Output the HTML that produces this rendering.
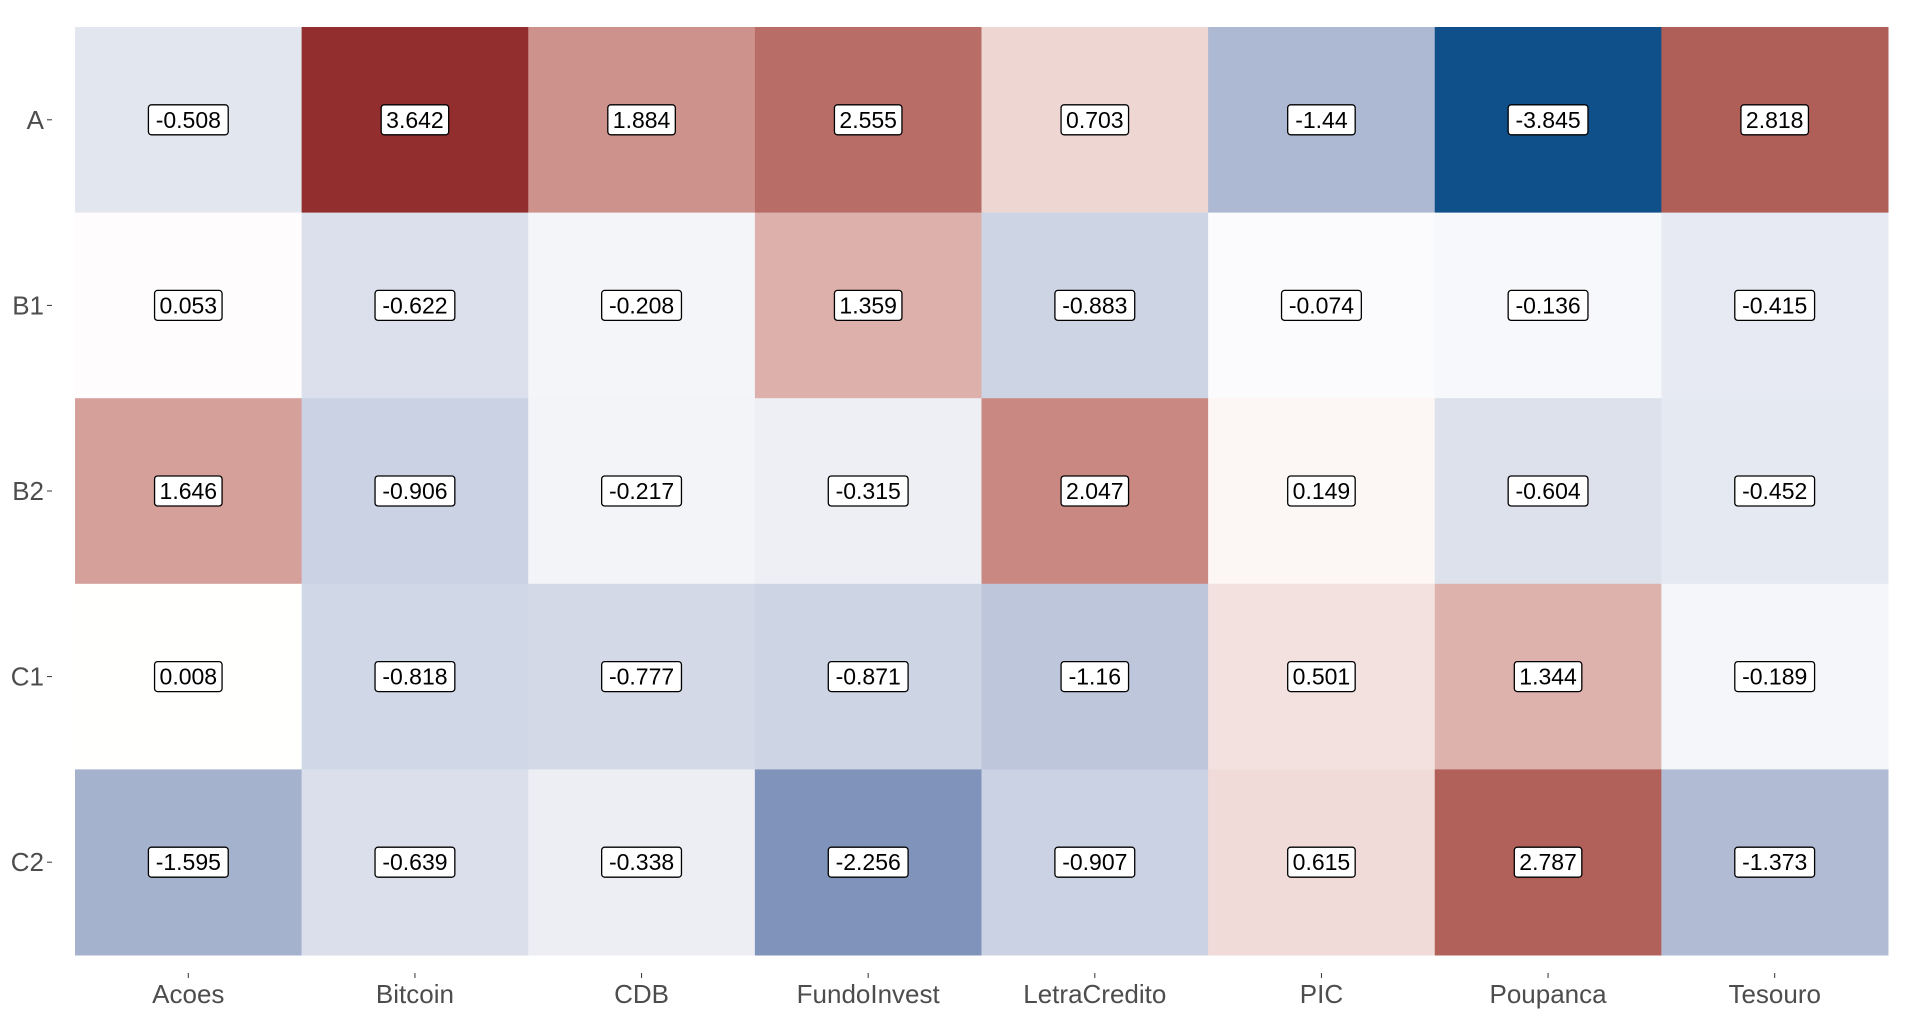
<!DOCTYPE html>
<html><head><meta charset="utf-8"><style>
body{margin:0;background:#fff;width:1920px;height:1017px;overflow:hidden;font-family:"Liberation Sans",sans-serif}
svg{display:block}
</style></head><body>
<svg id="chart" width="1920" height="1017"></svg>
<script>
const cols=["Acoes","Bitcoin","CDB","FundoInvest","LetraCredito","PIC","Poupanca","Tesouro"];
const rows=["A","B1","B2","C1","C2"];
const rowA=[-0.508,3.642,1.884,2.555,0.703,-1.44,-3.845,2.818];
const rowB1=[0.053,-0.622,-0.208,1.359,-0.883,-0.074,-0.136,-0.415];
const rowB2=[1.646,-0.906,-0.217,-0.315,2.047,0.149,-0.604,-0.452];
const rowC1=[0.008,-0.818,-0.777,-0.871,-1.16,0.501,1.344,-0.189];
const rowC2=[-1.595,-0.639,-0.338,-2.256,-0.907,0.615,2.787,-1.373];
const values=[rowA,rowB1,rowB2,rowC1,rowC2];

const NS="http://www.w3.org/2000/svg";
const svg=document.getElementById('chart');
const L=75,R=1888,T=27,B=955;
const cw=(R-L)/cols.length, ch=(B-T)/rows.length;
const xS=i=>L+i*cw, yS=j=>T+j*ch;
const all=values.flat();
const vmin=Math.min(...all), vmax=Math.max(...all);
function toLin(c){c/=255;return c<=0.04045?c/12.92:Math.pow((c+0.055)/1.055,2.4);}
function fromLin(c){c=c<=0.0031308?12.92*c:1.055*Math.pow(c,1/2.4)-0.055;return Math.max(0,Math.min(255,Math.round(c*255)));}
function rgb2lab(r,g,b){r=toLin(r);g=toLin(g);b=toLin(b);
let x=(r*0.4124+g*0.3576+b*0.1805)/0.95047,y=r*0.2126+g*0.7152+b*0.0722,z=(r*0.0193+g*0.1192+b*0.9505)/1.08883;
const f=t=>t>0.008856?Math.cbrt(t):7.787*t+16/116;x=f(x);y=f(y);z=f(z);return[116*y-16,500*(x-y),200*(y-z)];}
function lab2rgb(l,a,bb){let y=(l+16)/116,x=a/500+y,z=y-bb/200;
const fi=t=>t*t*t>0.008856?t*t*t:(t-16/116)/7.787;x=fi(x)*0.95047;y=fi(y);z=fi(z)*1.08883;
const r=x*3.2406+y*-1.5372+z*-0.4986,g=x*-0.9689+y*1.8758+z*0.0415,b=x*0.0557+y*-0.2040+z*1.0570;
return `rgb(${fromLin(r)},${fromLin(g)},${fromLin(b)})`;}
const lowL=rgb2lab(15,80,138),midL=rgb2lab(255,255,255),highL=rgb2lab(146,46,46);
function color(v){let t,a,b;if(v<0){t=v/vmin;a=midL;b=lowL;}else{t=v/vmax;a=midL;b=highL;}
return lab2rgb(a[0]+(b[0]-a[0])*t,a[1]+(b[1]-a[1])*t,a[2]+(b[2]-a[2])*t);}
function el(tag,attrs){const e=document.createElementNS(NS,tag);for(const k in attrs)e.setAttribute(k,attrs[k]);svg.appendChild(e);return e;}

values.forEach((row,j)=>{row.forEach((v,i)=>{
  const r=el('rect',{x:xS(i),y:yS(j),width:cw+0.5,height:ch+0.5,fill:color(v)});
  
  
});});
values.forEach((row,j)=>{row.forEach((v,i)=>{
  const cx=xS(i)+cw/2, cy=yS(j)+ch/2;
  const txt=String(v);
  const w=txt.length*12.3+6;
  const bx=el('rect',{x:cx-w/2,y:cy-15,width:w,height:30,rx:3,fill:'#fff',stroke:'#000','stroke-width':1.3});
  
  
  const t=el('text',{x:cx,y:cy+8,'text-anchor':'middle','font-size':23,fill:'#000'});
  t.textContent=txt;
  
  
});});
rows.forEach((r,j)=>{
  const cy=yS(j)+ch/2;
  const t=el('text',{x:44,y:cy+9,'text-anchor':'end','font-size':26,fill:'#4d4d4d'});
  t.textContent=r;
  
  
  const tk=el('line',{x1:47,x2:52,y1:cy,y2:cy,stroke:'#333','stroke-width':1});
  
  
});
cols.forEach((c,i)=>{
  const cx=xS(i)+cw/2;
  const tk=el('line',{x1:cx,x2:cx,y1:973,y2:978,stroke:'#333','stroke-width':1});
  
  
  const t=el('text',{x:cx,y:1003,'text-anchor':'middle','font-size':26,fill:'#4d4d4d'});
  t.textContent=c;
  
  
});
</script>
</body></html>
